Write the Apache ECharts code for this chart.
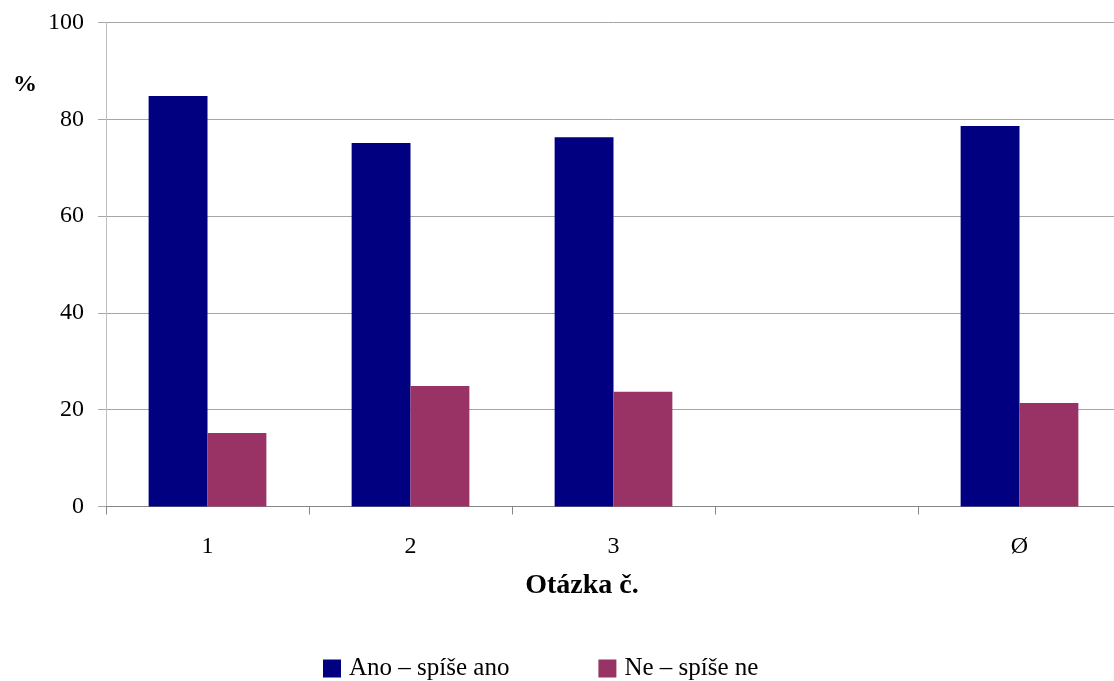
<!DOCTYPE html>
<html>
<head>
<meta charset="utf-8">
<script src="https://cdn.jsdelivr.net/npm/echarts@6/dist/echarts.min.js"></script>
<style>
  html, body { margin: 0; padding: 0; background: #fff; overflow: hidden; }
  /* plot area runs slightly past the right edge of the window */
  #chart { width: 1121px; height: 681px; }
</style>
</head>
<body>
<div id="chart"></div>
<script>
// Question numbers (the empty slot is a spacer before the average)
const categories = ['1', '2', '3', '', 'Ø'];
const seriesNames = ['Ano – spíše ano', 'Ne – spíše ne'];
const yesValues = [84.8, 75.1, 76.3, null, 78.6];
const noValues = [15.2, 24.9, 23.7, null, 21.4];
const yTicks = { min: 0, max: 100, interval: 20 };

const FONT = '"Liberation Serif", "Times New Roman", serif';

const chart = echarts.init(document.getElementById('chart'), null, { renderer: 'canvas' });

chart.setOption({
  backgroundColor: '#ffffff',
  animation: false,
  textStyle: { fontFamily: FONT, color: '#000' },
  title: [
    {
      text: '%',
      left: 8,
      top: 68,
      textStyle: { fontFamily: FONT, fontSize: 24, fontWeight: 'bold', color: '#000' }
    },
    {
      text: 'Otázka č.',
      left: 577,
      textAlign: 'center',
      top: 567,
      textStyle: { fontFamily: FONT, fontSize: 28, fontWeight: 'bold', color: '#000' }
    }
  ],
  legend: {
    data: seriesNames,
    left: 318,
    top: 651,
    icon: 'rect',
    itemWidth: 18,
    itemHeight: 18,
    itemGap: 89,
    textStyle: { fontFamily: FONT, fontSize: 25, color: '#000', padding: [0, 0, 0, 3] }
  },
  grid: {
    left: 106,
    top: 22.5,
    right: 0,
    height: 484,
    containLabel: false
  },
  xAxis: {
    type: 'category',
    data: categories,
    boundaryGap: true,
    axisLine: { lineStyle: { color: '#868686', width: 1 } },
    axisTick: { show: true, alignWithLabel: false, length: 8, lineStyle: { color: '#868686' } },
    axisLabel: { fontFamily: FONT, fontSize: 24, color: '#000', margin: 28, interval: 0 },
    splitLine: { show: false }
  },
  yAxis: {
    type: 'value',
    min: yTicks.min,
    max: yTicks.max,
    interval: yTicks.interval,
    axisLine: { show: true, lineStyle: { color: '#bfbfbf', width: 1 } },
    axisTick: { show: true, length: 8, lineStyle: { color: '#a6a6a6' } },
    axisLabel: { fontFamily: FONT, fontSize: 24, color: '#000', margin: 22 },
    splitLine: { show: true, lineStyle: { color: '#a6a6a6', width: 1 } }
  },
  series: [
    {
      name: seriesNames[0],
      type: 'bar',
      data: yesValues,
      barGap: '0%',
      barCategoryGap: '42%',
      itemStyle: { color: '#000080' }
    },
    {
      name: seriesNames[1],
      type: 'bar',
      data: noValues,
      itemStyle: { color: '#993366' }
    }
  ]
});
</script>
</body>
</html>
